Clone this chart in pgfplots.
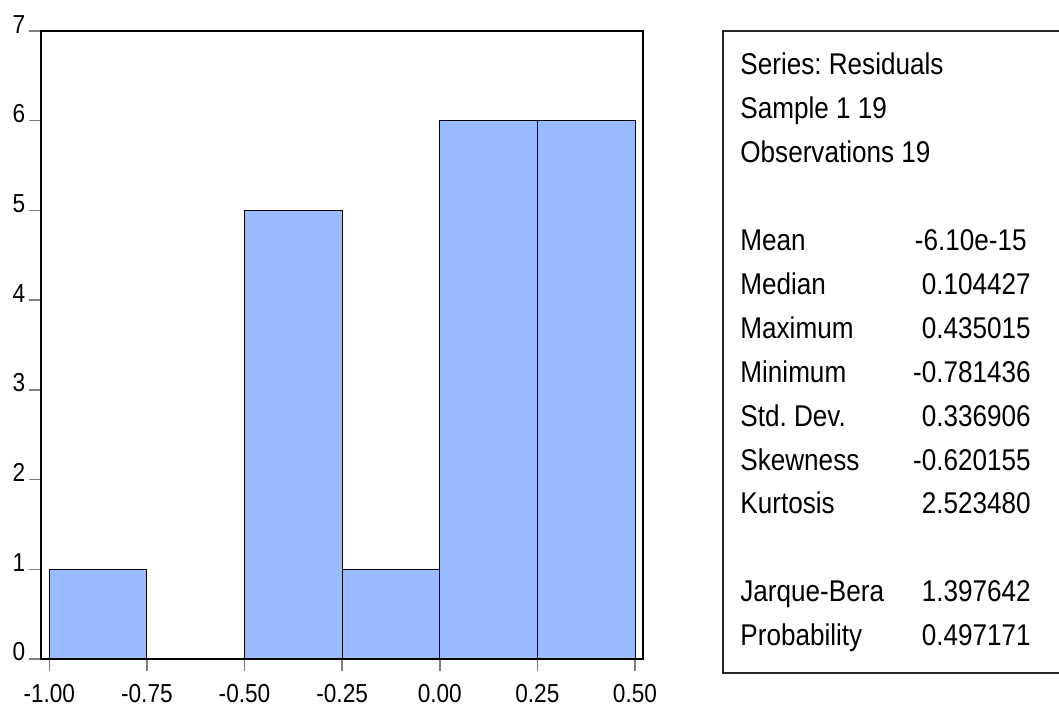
\documentclass[border=0pt]{standalone}
\usepackage{pgfplots}
\pgfplotsset{compat=1.18}
\usepackage{fontspec}
\setmainfont{Liberation Sans}[FakeStretch=0.87]
\frenchspacing
\definecolor{barblue}{RGB}{153,187,255}
\begin{document}
\begin{tikzpicture}
\useasboundingbox (0pt,0pt) rectangle (529.5pt,353pt);
\begin{axis}[at={(20.35pt,23.5pt)}, anchor=south west, scale only axis,
  width=301.15pt, height=314pt,
  xmin=-1.022, xmax=0.5205, ymin=0, ymax=7,
  axis on top,
  axis line style={line width=1pt, black},
  tick align=outside, tick style={gray, line width=0.75pt}, major tick length=6pt,
  xtick={-1,-0.75,-0.5,-0.25,0,0.25,0.5},
  xticklabels={-1.00,-0.75,-0.50,-0.25,0.00,0.25,0.50},
  ytick={0,1,2,3,4,5,6,7},
  yticklabels={0,1,2,3,4,5,6,7},
  xtick pos=bottom, ytick pos=left,
  ticklabel style={font=\fontsize{13}{13}\selectfont},
  xticklabel style={anchor=base, inner sep=0pt, yshift=-15.5pt},
  yticklabel style={anchor=base east, inner sep=0pt, xshift=-1.5pt, yshift=-1pt},
]
\addplot[ybar interval, fill=barblue, draw=black, line width=0.5pt]
  coordinates {(-1,1) (-0.75,0) (-0.5,5) (-0.25,1) (0,6) (0.25,6) (0.5,6)};
\end{axis}
\begin{scope}[x=0.5pt, y=-0.5pt, shift={(0pt,353pt)},
  every node/.style={inner sep=0pt, font=\fontsize{15}{15}\selectfont}]
\draw[line width=1pt, black!85] (1060,31) -- (723,31) -- (723,673) -- (1060,673);
\node[anchor=base west] at (740,75) {Series: Residuals};
\node[anchor=base west] at (740,118.9) {Sample 1 19};
\node[anchor=base west] at (740,162.8) {Observations 19};
\node[anchor=base west] at (740,250.6) {Mean};
\node[anchor=base west] at (740,294.5) {Median};
\node[anchor=base west] at (740,338.4) {Maximum};
\node[anchor=base west] at (740,382.3) {Minimum};
\node[anchor=base west] at (740,426.2) {Std. Dev.};
\node[anchor=base west] at (740,470.1) {Skewness};
\node[anchor=base west] at (740,514) {Kurtosis};
\node[anchor=base west] at (740,601.8) {Jarque-Bera};
\node[anchor=base west] at (740,645.7) {Probability};
\node[anchor=base east] at (1027,250.6) {-6.10e-15};
\node[anchor=base east] at (1031,294.5) {0.104427};
\node[anchor=base east] at (1031,338.4) {0.435015};
\node[anchor=base east] at (1031,382.3) {-0.781436};
\node[anchor=base east] at (1031,426.2) {0.336906};
\node[anchor=base east] at (1031,470.1) {-0.620155};
\node[anchor=base east] at (1031,514) {2.523480};
\node[anchor=base east] at (1031,601.8) {1.397642};
\node[anchor=base east] at (1031,645.7) {0.497171};
\end{scope}
\end{tikzpicture}
\end{document}
